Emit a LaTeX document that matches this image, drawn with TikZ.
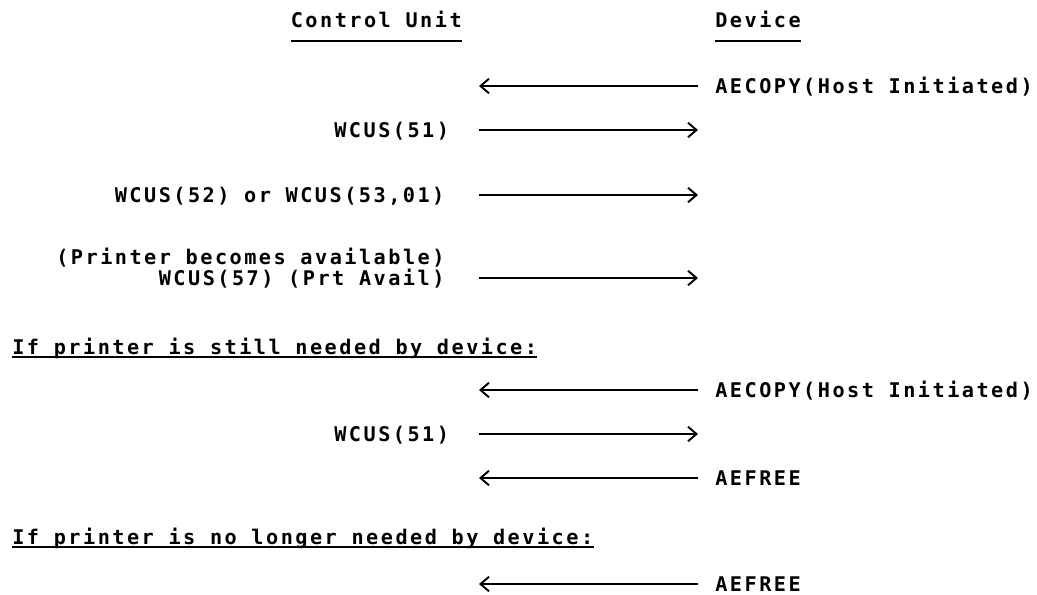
\documentclass[tikz,border=0pt]{standalone}
\usepackage{fontspec}
\newfontfamily\printfont[LetterSpace=12.3]{DejaVu Sans Mono}
\usepackage{tikz}
\usetikzlibrary{arrows.meta, positioning, calc}
\tikzset{
  flowtext/.style={
    font=\printfont\bfseries\fontsize{11.5}{13}\selectfont, inner sep=0pt,
    text height=8.4pt, text depth=0pt, anchor=west
  },
  flowarrow/.style={
    -{Straight Barb[length=1.7mm, width=2.9mm]}, line width=1.1pt
  },
  ruleline/.style={line width=1.1pt},
}

\begin{document}
\begin{tikzpicture}
  \useasboundingbox (0, 0) rectangle (20.74, -11.88);

  % === Column heads ===
  \node[flowtext] (cuhead) at (5.81, -0.40) {Control Unit};
  \node[flowtext] (devhead) at (14.30, -0.40) {Device};
  \draw[ruleline] ([yshift=-2.6mm]cuhead.south west) -- ([yshift=-2.6mm]cuhead.south east);
  \draw[ruleline] ([yshift=-2.6mm]devhead.south west) -- ([yshift=-2.6mm]devhead.south east);

  % arrow ends on the two sides
  \coordinate (cuside) at (9.58, 0);
  \coordinate (devside) at (13.96, 0);

  % === First exchange ===
  \node[flowtext] (copyhost) at (14.30, -1.72) {AECOPY(Host Initiated)};
  \node[flowtext] (wcusone) at (6.68, -2.60) {WCUS(51)};
  \node[flowtext] (wcusbusy) at (2.29, -3.90) {WCUS(52) or WCUS(53,01)};
  \node[flowtext] (prtnote) at (1.12, -5.14) {(Printer becomes available)};
  \node[flowtext] (wcusavail) at (3.17, -5.56) {WCUS(57) (Prt Avail)};

  \draw[flowarrow] (copyhost -| devside) -- (copyhost -| cuside);
  \draw[flowarrow] (wcusone -| cuside) -- (wcusone -| devside);
  \draw[flowarrow] (wcusbusy -| cuside) -- (wcusbusy -| devside);
  \draw[flowarrow] (wcusavail -| cuside) -- (wcusavail -| devside);

  % === Still needed ===
  \node[flowtext] (stillneed) at (0.24, -6.94) {If printer is still needed by device:};
  \draw[ruleline] ([yshift=-0.4mm]stillneed.south west) -- ([yshift=-0.4mm]stillneed.south east);

  \node[flowtext] (copyagain) at (14.30, -7.80) {AECOPY(Host Initiated)};
  \node[flowtext] (wcusagain) at (6.68, -8.68) {WCUS(51)};
  \node[flowtext] (freeone) at (14.30, -9.56) {AEFREE};

  \draw[flowarrow] (copyagain -| devside) -- (copyagain -| cuside);
  \draw[flowarrow] (wcusagain -| cuside) -- (wcusagain -| devside);
  \draw[flowarrow] (freeone -| devside) -- (freeone -| cuside);

  % === No longer needed ===
  \node[flowtext] (noneed) at (0.24, -10.74) {If printer is no longer needed by device:};
  \draw[ruleline] ([yshift=-0.4mm]noneed.south west) -- ([yshift=-0.4mm]noneed.south east);

  \node[flowtext] (freetwo) at (14.30, -11.68) {AEFREE};
  \draw[flowarrow] (freetwo -| devside) -- (freetwo -| cuside);

\end{tikzpicture}
\end{document}
